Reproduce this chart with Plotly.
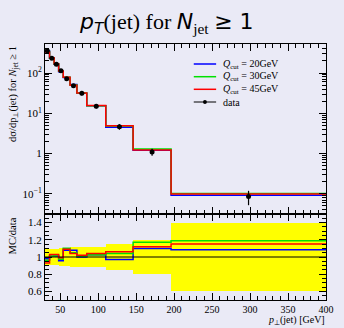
import numpy as np
import plotly.graph_objects as go

# ---- data ----
bin_edges = [30, 36, 42, 48, 54, 63, 72, 85, 110, 146, 196, 400]
data_vals = [358, 231, 164, 113, 71.6, 48, 31.5, 14.9, 4.63, 1.10, 0.0857]
data_errs = [34, 20.8, 14.8, 11.3, 7.9, 5.5, 3.8, 1.8, 0.72, 0.22, 0.0334]
mc_q20 = [351, 233, 166, 108, 77.3, 51.8, 31.5, 15.3, 4.49, 1.21, 0.093]
mc_q30 = [344, 233, 167, 110, 78.8, 50.4, 31.8, 15.3, 4.82, 1.29, 0.102]
mc_q45 = [333, 238, 169, 112, 78.0, 49.9, 32.1, 15.5, 4.91, 1.23, 0.0986]
series_names = ["<i>Q</i><sub>cut</sub> = 20GeV", "<i>Q</i><sub>cut</sub> = 30GeV",
                "<i>Q</i><sub>cut</sub> = 45GeV"]
series_colors = ["#0000ff", "#00e000", "#ff0000"]
main_tickvals = [0.1, 1, 10, 100]
main_ticktext = ["10<sup>−1</sup>", "1", "10<sup>1</sup>", "10<sup>2</sup>"]

edges = np.array(bin_edges, dtype=float)
d = np.array(data_vals)
de = np.array(data_errs)
centers = (edges[:-1] + edges[1:]) / 2
widths = edges[1:] - edges[:-1]
rel = de / d

BG = "rgb(234,234,246)"
SERIF = "Liberation Serif"

fig = go.Figure()

# ratio band
fig.add_trace(go.Bar(x=centers, y=2 * rel, base=1 - rel, width=widths,
                     marker=dict(color="#ffff00", line=dict(width=0)),
                     xaxis="x2", yaxis="y2", showlegend=False, hoverinfo="skip"))

def step(v):
    v = list(v)
    return v + [v[-1]]

for vals, name, col in zip([mc_q20, mc_q30, mc_q45], series_names, series_colors):
    vals = np.array(vals)
    fig.add_trace(go.Scatter(x=edges, y=step(vals), mode="lines", line_shape="hv",
                             line=dict(color=col, width=1.5), xaxis="x", yaxis="y",
                             showlegend=False))
    fig.add_trace(go.Scatter(x=edges, y=step(vals / d), mode="lines", line_shape="hv",
                             line=dict(color=col, width=1.5), xaxis="x2", yaxis="y2",
                             showlegend=False))

# data/data line
fig.add_trace(go.Scatter(x=edges, y=step(d / d), mode="lines", line_shape="hv",
                         line=dict(color="black", width=1), xaxis="x2", yaxis="y2",
                         showlegend=False))
# data points
fig.add_trace(go.Scatter(x=centers, y=d, mode="markers",
                         marker=dict(color="black", size=5),
                         error_y=dict(type="data", array=de, color="black", thickness=1.2, width=0),
                         xaxis="x", yaxis="y", showlegend=False))

axis_common = dict(showline=True, linecolor="black", linewidth=1, mirror="ticks",
                   ticks="inside", tickcolor="black", ticklen=7, tickwidth=1,
                   showgrid=False, zeroline=False,
                   tickfont=dict(family=SERIF, size=11, color="black"))

minor_log = [m * 10.0 ** e for e in range(-2, 3) for m in range(2, 10)]

B = 28
H = 328 - 44 - B
split = 86 / H
fig.update_layout(
    width=344, height=328,
    margin=dict(l=45, r=10, t=44, b=B),
    paper_bgcolor=BG, plot_bgcolor=BG,
    bargap=0,
    xaxis=dict(axis_common, domain=[0, 1], range=[30, 400], anchor="y",
               showticklabels=False, dtick=50, tick0=0,
               minor=dict(dtick=10, ticks="inside", ticklen=4, tickcolor="black")),
    yaxis=dict(axis_common, type="log", domain=[split, 1], range=[-1.5, 2.72], anchor="x",
               tickmode="array", tickvals=main_tickvals, ticktext=main_ticktext,
               minor=dict(tickmode="array", tickvals=minor_log, ticks="inside",
                          ticklen=4, tickcolor="black")),
    xaxis2=dict(axis_common, domain=[0, 1], range=[30, 400], anchor="y2",
                dtick=50, tick0=0, ticklabelstandoff=0,
                tickfont=dict(family=SERIF, size=10, color="black"),
                minor=dict(dtick=10, ticks="inside", ticklen=4, tickcolor="black")),
    yaxis2=dict(axis_common, domain=[0, split], range=[0.5, 1.5], anchor="x2",
                dtick=0.2, tick0=0.6,
                minor=dict(dtick=0.05, ticks="inside", ticklen=4, tickcolor="black")),
    title=dict(text='<span style="font-family:DejaVu Sans"><i>p<sub>T</sub></i></span>(jet) for '
                    '<span style="font-family:DejaVu Sans"><i>N</i></span><sub>jet</sub> '
                    '<span style="font-family:DejaVu Sans">≥ 1</span>',
               x=0.485, xanchor="center", y=0.935, yanchor="middle",
               font=dict(family=SERIF, size=22, color="black")),
    showlegend=False,
)

# axis titles
fig.add_annotation(text="dσ/dp<sub>⊥</sub>(jet) for <i>N</i><sub>jet</sub> ≥ 1",
                   textangle=-90, xref="paper", yref="paper", x=-33 / 289, y=1.0,
                   xanchor="center", yanchor="top", showarrow=False,
                   font=dict(family=SERIF, size=10.5, color="black"))
fig.add_annotation(text="MC/data", textangle=-90, xref="paper", yref="paper",
                   x=-33 / 289, y=split - 1 / H, xanchor="center", yanchor="top",
                   showarrow=False, font=dict(family=SERIF, size=10.5, color="black"))
fig.add_annotation(text="<i>p</i><sub>⊥</sub>(jet) [GeV]", xref="paper", yref="paper",
                   x=1.0, y=-B / H, xanchor="right", yanchor="bottom", showarrow=False,
                   borderpad=0, font=dict(family=SERIF, size=10, color="black"))

# manual legend
leg_rows = [64, 76.7, 89.3, 102]
def px_x(p):
    return (p - 45) / 289
def px_y(p):
    return (328 - B - p) / H

leg_labels = series_names + ["data"]
leg_colors = series_colors + ["black"]
for i, (lab, col) in enumerate(zip(leg_labels, leg_colors)):
    yy = px_y(leg_rows[i])
    fig.add_shape(type="line", xref="paper", yref="paper", x0=px_x(198), x1=px_x(221),
                  y0=yy, y1=yy, line=dict(color=col, width=1.5 if i < 3 else 1))
    fig.add_annotation(text=lab, xref="paper", yref="paper", x=px_x(226), y=yy,
                       xanchor="left", yanchor="middle", showarrow=False,
                       font=dict(family=SERIF, size=10, color="black"))
yy = px_y(leg_rows[3])
fig.add_shape(type="circle", xref="paper", yref="paper",
              x0=px_x(207.5), x1=px_x(211.5), y0=yy - 2 / H, y1=yy + 2 / H,
              fillcolor="black", line=dict(color="black", width=0))

fig.write_html("out.html")
